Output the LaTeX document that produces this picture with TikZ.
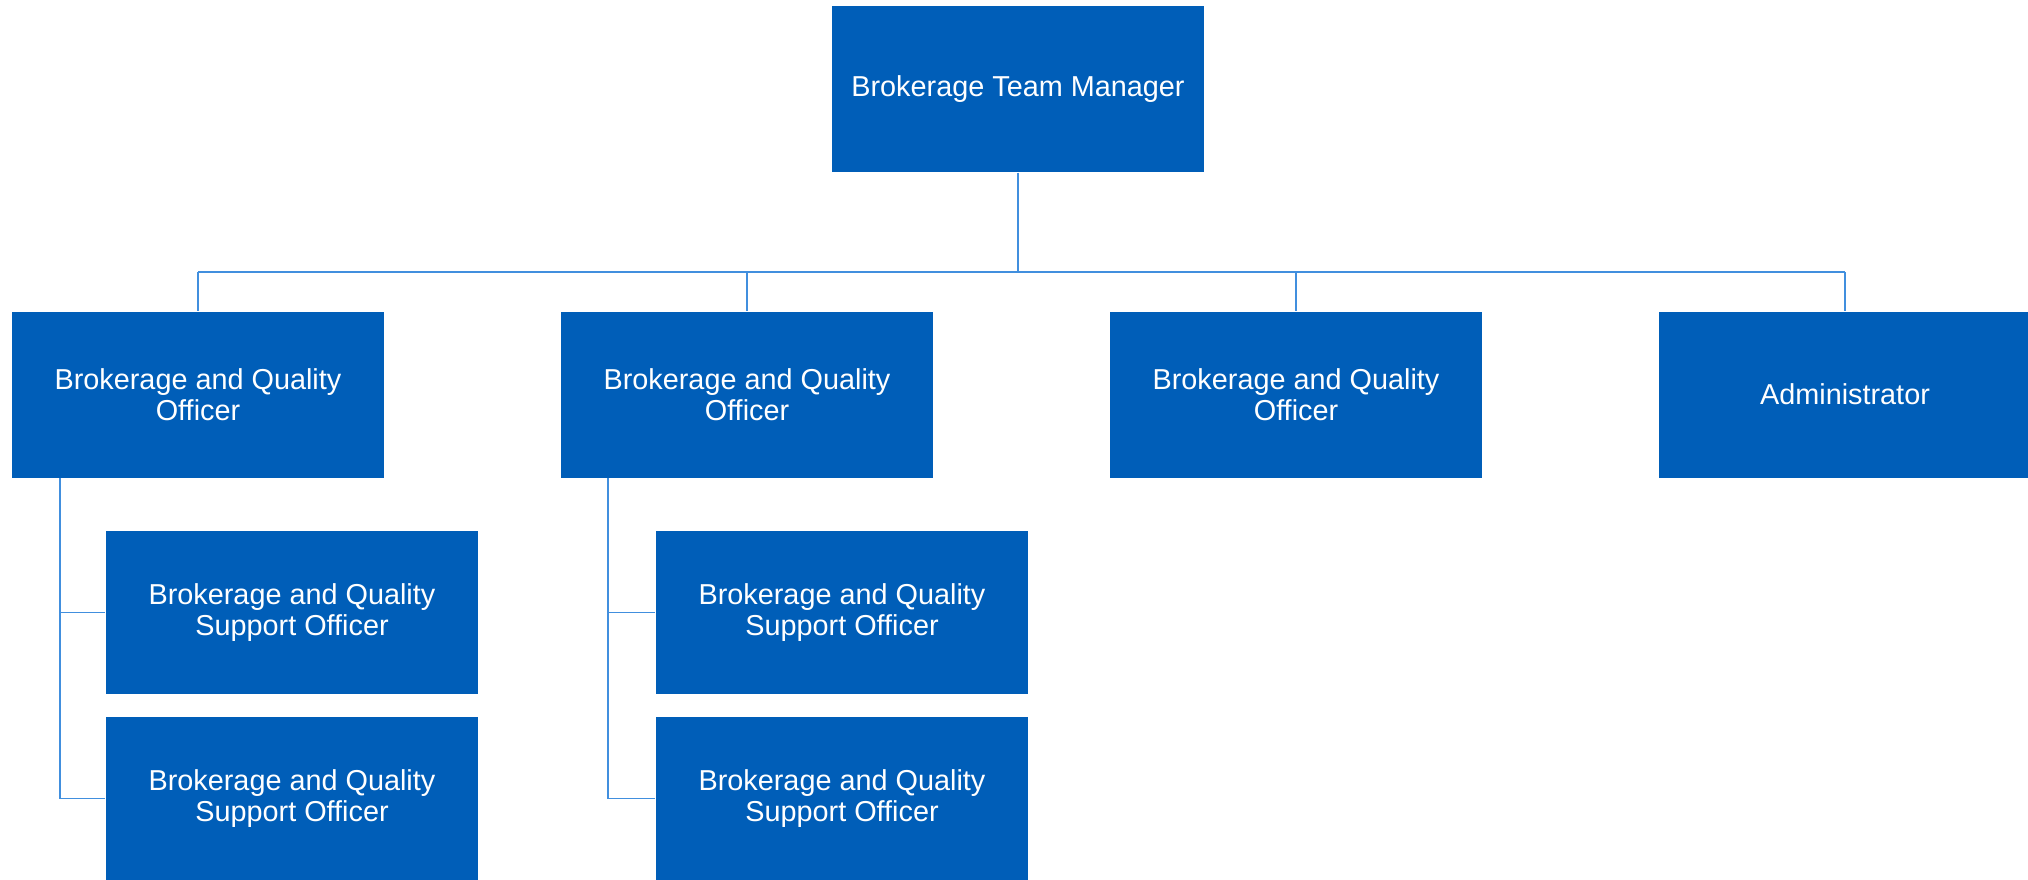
\documentclass[tikz,border=0pt]{standalone}
\usepackage{fontspec}
\setmainfont{Liberation Sans}
\definecolor{boxblue}{RGB}{0,94,184}
\definecolor{lineblue}{RGB}{65,143,222}
\tikzset{
  post/.style={fill=boxblue, text=white, minimum width=3.72cm, minimum height=1.66cm,
    inner sep=0pt, align=center, font=\fontsize{8.2}{8.8}\selectfont},
  subpost/.style={post, minimum height=1.63cm},
  link/.style={draw=lineblue, line width=0.5pt}
}
\begin{document}
\begin{tikzpicture}
      \useasboundingbox (0,0) rectangle (20.28,-8.79);
      \node[post] (mgr) at (10.18,-0.89) {Brokerage Team Manager};
      \node[post] (bqo1) at (1.98,-3.945) {Brokerage and Quality\\Officer};
      \node[post] (bqo2) at (7.47,-3.945) {Brokerage and Quality\\Officer};
      \node[post] (bqo3) at (12.96,-3.945) {Brokerage and Quality\\Officer};
      \node[post] (admin) at (18.45,-3.945) {Administrator};
      \node[subpost] (sup1) at (2.92,-6.125) {Brokerage and Quality\\Support Officer};
      \node[subpost] (sup2) at (2.92,-7.985) {Brokerage and Quality\\Support Officer};
      \node[subpost] (sup3) at (8.42,-6.125) {Brokerage and Quality\\Support Officer};
      \node[subpost] (sup4) at (8.42,-7.985) {Brokerage and Quality\\Support Officer};
      \coordinate (bus) at (0,-2.72);
      \coordinate (drop1) at ([xshift=4.9mm]bqo1.south west);
      \coordinate (drop2) at ([xshift=4.8mm]bqo2.south west);
      \begin{scope}[link]
        \draw (mgr.south) -- (mgr.south |- bus);
        \draw (bqo1.north |- bus) -- (admin.north |- bus);
        \draw (bqo1.north |- bus) -- (bqo1.north);
        \draw (bqo2.north |- bus) -- (bqo2.north);
        \draw (bqo3.north |- bus) -- (bqo3.north);
        \draw (admin.north |- bus) -- (admin.north);
        \draw (drop1) |- (sup1.west);
        \draw (drop1) |- (sup2.west);
        \draw (drop2) |- (sup3.west);
        \draw (drop2) |- (sup4.west);
      \end{scope}
    \end{tikzpicture}
\end{document}
